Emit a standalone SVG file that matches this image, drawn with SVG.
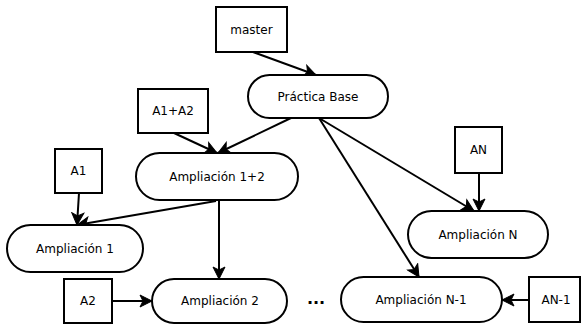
<svg xmlns="http://www.w3.org/2000/svg" width="582" height="325" viewBox="0 0 582 325">
<style>
.n{fill:#fff;stroke:#000;stroke-width:2}
.t{font-family:"DejaVu Sans",sans-serif;font-size:12px;fill:#000;text-anchor:middle;dominant-baseline:central}
.c{stroke:#000;stroke-width:2;fill:none;marker-end:url(#a)}
</style>
<defs>
<marker id="a" markerUnits="userSpaceOnUse" markerWidth="14" markerHeight="14" viewBox="0 0 14 14" refX="13" refY="7" orient="auto">
<path d="M1,1 L13,7 L1,13 L4,7 z" fill="#000" stroke="#000" stroke-width="1"/>
</marker>
</defs>
<g id="connectors">
<line class="c" x1="253" y1="52" x2="316" y2="75"/>
<line class="c" x1="174" y1="133" x2="217" y2="153"/>
<line class="c" x1="291" y1="118" x2="218" y2="153"/>
<line class="c" x1="319" y1="118" x2="474" y2="211"/>
<line class="c" x1="319" y1="118" x2="419" y2="277"/>
<line class="c" x1="479" y1="173" x2="479" y2="211"/>
<line class="c" x1="79" y1="193" x2="77" y2="225"/>
<line class="c" x1="216" y1="201" x2="77" y2="225"/>
<line class="c" x1="219" y1="200" x2="219" y2="279"/>
<line class="c" x1="112" y1="301" x2="152" y2="301"/>
<line class="c" x1="529" y1="300" x2="502" y2="300"/>
</g>
<g id="master"><rect class="n" x="216" y="7" width="71" height="45"/><text class="t" x="251.5" y="30">master</text></g>
<g id="practica-base"><rect class="n" x="248" y="75" width="140" height="43" rx="21.5"/><text class="t" x="318" y="97">Práctica Base</text></g>
<g id="a1a2"><rect class="n" x="138" y="89" width="70" height="44"/><text class="t" x="173" y="111">A1+A2</text></g>
<g id="ampliacion-12"><rect class="n" x="136" y="153" width="162" height="47" rx="23.5"/><text class="t" x="217" y="177">Ampliación 1+2</text></g>
<g id="a1"><rect class="n" x="55" y="149" width="47" height="44"/><text class="t" x="78.5" y="171">A1</text></g>
<g id="ampliacion-1"><rect class="n" x="7" y="225" width="136" height="47" rx="23.5"/><text class="t" x="75" y="249">Ampliación 1</text></g>
<g id="an"><rect class="n" x="455" y="127" width="47" height="46"/><text class="t" x="478.5" y="150">AN</text></g>
<g id="ampliacion-n"><rect class="n" x="408" y="211" width="140" height="47" rx="23.5"/><text class="t" x="478" y="235">Ampliación N</text></g>
<g id="a2"><rect class="n" x="64" y="279" width="48" height="44"/><text class="t" x="88" y="301">A2</text></g>
<g id="ampliacion-2"><rect class="n" x="152" y="279" width="135" height="44" rx="22"/><text class="t" x="220" y="301">Ampliación 2</text></g>
<g id="dots"><text class="t" x="316" y="298" style="font-weight:bold;font-size:16px">...</text></g>
<g id="ampliacion-n1"><rect class="n" x="341" y="277" width="161" height="45" rx="22.5"/><text class="t" x="421" y="300">Ampliación N-1</text></g>
<g id="an1"><rect class="n" x="529" y="277" width="51" height="45"/><text class="t" x="556" y="300">AN-1</text></g>
</svg>
